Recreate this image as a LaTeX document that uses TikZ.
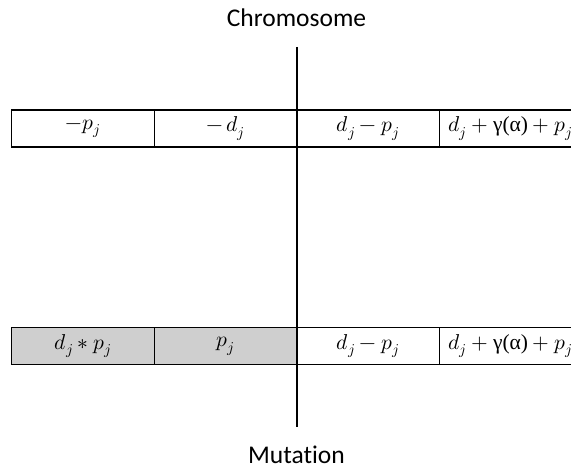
\documentclass[tikz,border=0pt]{standalone}
\usepackage{fontspec}
\usepackage{unicode-math}
\setmainfont[Ligatures=NoCommon]{Carlito}
\setmathfont{Latin Modern Math}
\newfontfamily\grk{Liberation Serif}
\begin{document}
\begin{tikzpicture}[x=1pt,y=-1pt,
  cell/.style={draw=black, line width=1.3pt, minimum width=142.5pt, minimum height=37pt, inner sep=0pt, anchor=north west, font=\fontsize{21.5}{26}\selectfont},
  grey/.style={fill=gray!38},
  lbl/.style={font=\fontsize{25.5}{30}\selectfont, inner sep=0pt}]
\useasboundingbox (0,0) rectangle (571,468);
\clip (0,0) rectangle (571,468);
% row 1
\node[cell] (a1) at (11,109.5) {$-p_j$};
\node[cell] (a2) at (153.5,109.5) {$-\,d_j$};
\node[cell] (a3) at (296,109.5) {$d_j-p_j$};
\node[cell] (a4) at (438.5,109.5) {$d_j+\mbox{\grk γ(α)}+p_j$};
% row 2
\node[cell,grey] (b1) at (11,327) {$d_j\ast p_j$};
\node[cell,grey] (b2) at (153.5,327) {$p_j$};
\node[cell] (b3) at (296,327) {$d_j-p_j$};
\node[cell] (b4) at (438.5,327) {$d_j+\mbox{\grk γ(α)}+p_j$};
% axis
\coordinate (top) at (296.5,47);
\coordinate (bot) at (296.5,427);
\draw[line width=2pt] (top) -- (bot);
\node[lbl] (chrom) at (296.5,18) {Chromosome};
\node[lbl] (mut) at (296.5,455) {Mutation};
\end{tikzpicture}
\end{document}
